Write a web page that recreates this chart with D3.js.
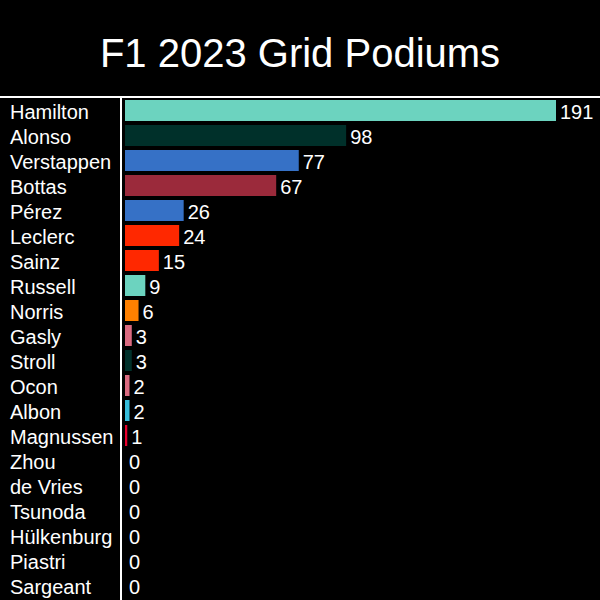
<!DOCTYPE html>
<html>
<head>
<meta charset="utf-8">
<script src="https://cdn.jsdelivr.net/npm/d3@7"></script>
<style>
html,body{margin:0;padding:0;background:#000;}
svg{display:block;}
</style>
</head>
<body>
<svg id="chart" width="600" height="600"></svg>
<script>
const drivers = ["Hamilton","Alonso","Verstappen","Bottas","Pérez","Leclerc","Sainz","Russell","Norris","Gasly","Stroll","Ocon","Albon","Magnussen","Zhou","de Vries","Tsunoda","Hülkenburg","Piastri","Sargeant"];
const podiums = [191,98,77,67,26,24,15,9,6,3,3,2,2,1,0,0,0,0,0,0];
const colors = ["#6CD3BF","#00302A","#3671C6","#9B2A3B","#3671C6","#FF2800","#FF2800","#6CD3BF","#FF8000","#DA6A80","#00302A","#DA6A80","#37BEDD","#E8002D","#9B2A3B","#5E8FAA","#5E8FAA","#B6BABD","#FF8000","#37BEDD"];
const title = "F1 2023 Grid Podiums";

const svg = d3.select("#chart");
const W = 600, H = 600;
svg.append("rect").attr("width", W).attr("height", H).attr("fill", "#000");

svg.append("text")
  .attr("x", 300).attr("y", 67)
  .attr("text-anchor", "middle")
  .attr("fill", "#fff")
  .attr("font-family", "Liberation Sans, Arial, sans-serif")
  .attr("font-size", 40)
  .text(title);

const x = d3.scaleLinear().domain([0, 191]).range([125, 556]);
const y = d3.scaleBand().domain(drivers).range([98, 598]).paddingInner(0.16).paddingOuter(0.08);

const data = drivers.map((d, i) => ({name: d, v: podiums[i], c: colors[i]}));

svg.selectAll("rect.bar").data(data).join("rect")
  .attr("class", "bar")
  .attr("x", x(0))
  .attr("y", d => y(d.name))
  .attr("width", d => x(d.v) - x(0))
  .attr("height", y.bandwidth())
  .attr("fill", d => d.c);

svg.selectAll("text.name").data(data).join("text")
  .attr("class", "name")
  .attr("x", 10)
  .attr("y", d => y(d.name) + y.bandwidth() / 2 + 8.8)
  .attr("fill", "#fff")
  .attr("font-family", "Liberation Sans, Arial, sans-serif")
  .attr("font-size", 20)
  .text(d => d.name);

svg.selectAll("text.val").data(data).join("text")
  .attr("class", "val")
  .attr("x", d => x(d.v) + 4)
  .attr("y", d => y(d.name) + y.bandwidth() / 2 + 8.8)
  .attr("fill", "#fff")
  .attr("font-family", "Liberation Sans, Arial, sans-serif")
  .attr("font-size", 20)
  .text(d => d.v);

svg.append("line").attr("x1", 0).attr("x2", 600).attr("y1", 97).attr("y2", 97)
  .attr("stroke", "#fff").attr("stroke-width", 2);
svg.append("line").attr("x1", 121).attr("x2", 121).attr("y1", 97).attr("y2", 600)
  .attr("stroke", "#fff").attr("stroke-width", 2);
</script>
</body>
</html>
